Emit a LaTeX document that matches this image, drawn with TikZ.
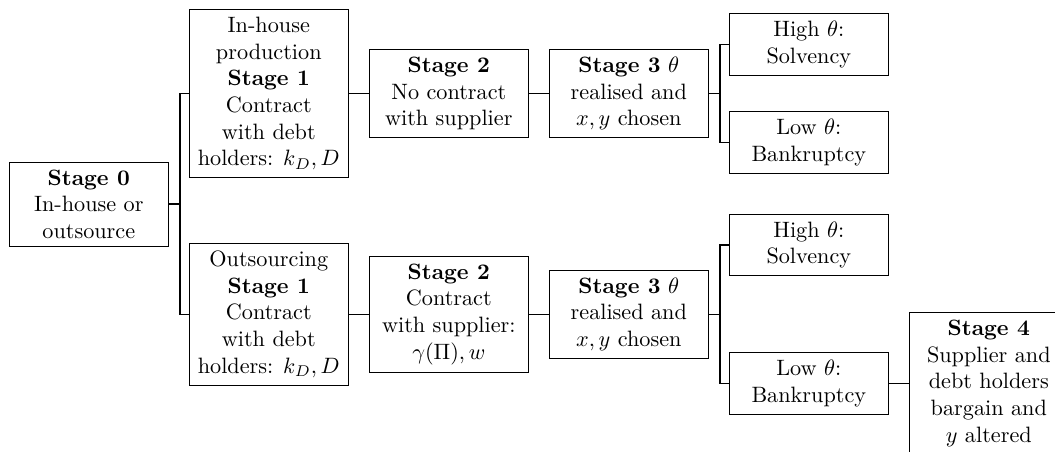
\documentclass[tikz,border=0pt]{standalone}
\begin{document}
\begin{tikzpicture}[x=0.45pt,y=-0.45pt,
  stagebox/.style={draw, line width=0.4pt, align=center, minimum width=71.55pt,
    inner xsep=3.33pt, inner ysep=3.33pt, anchor=center, fill=white},
  edge/.style={line width=0.7pt}]
\fill[white] (0,0) rectangle (1055,451);
\clip (0,0) rectangle (1055,451);

% Stage 0
\node[stagebox] (s0) at (88.8,204.2) {\textbf{Stage 0}\\In-house or\\outsource};

% In-house branch
\node[stagebox] (s1a) at (268.8,93.6) {In-house\\production\\\textbf{Stage 1}\\Contract\\with debt\\holders: $k_D, D$};
\node[stagebox] (s2a) at (448.8,93.6) {\textbf{Stage 2}\\No contract\\with supplier};
\node[stagebox] (s3a) at (628.8,93.6) {\textbf{Stage 3} $\theta$\\realised and\\$x, y$ chosen};
\node[stagebox] (hiA) at (808.8,44.5) {High $\theta$:\\Solvency};
\node[stagebox] (loA) at (808.8,142.4) {Low $\theta$:\\Bankruptcy};

% Outsourcing branch
\node[stagebox] (s1b) at (268.8,314.3) {Outsourcing\\\textbf{Stage 1}\\Contract\\with debt\\holders: $k_D, D$};
\node[stagebox] (s2b) at (448.8,314.3) {\textbf{Stage 2}\\Contract\\with supplier:\\$\gamma(\Pi), w$};
\node[stagebox] (s3b) at (628.8,314.3) {\textbf{Stage 3} $\theta$\\realised and\\$x, y$ chosen};
\node[stagebox] (hiB) at (808.8,245.2) {High $\theta$:\\Solvency};
\node[stagebox] (loB) at (808.8,383.4) {Low $\theta$:\\Bankruptcy};
\node[stagebox] (s4) at (988.8,383.4) {\textbf{Stage 4}\\Supplier and\\debt holders\\bargain and\\$y$ altered};

% Forked connectors
\draw[edge] (s0.east) -- ++(11,0) coordinate (f0);
\draw[edge] (f0) |- (s1a.west);
\draw[edge] (f0) |- (s1b.west);

\draw[edge] (s3a.east) -- ++(11,0) coordinate (f1);
\draw[edge] (f1) |- (hiA.west);
\draw[edge] (f1) |- (loA.west);

\draw[edge] (s3b.east) -- ++(11,0) coordinate (f2);
\draw[edge] (f2) |- (hiB.west);
\draw[edge] (f2) |- (loB.west);

% Straight connectors
\draw[edge] (s1a.east) -- (s2a.west);
\draw[edge] (s2a.east) -- (s3a.west);
\draw[edge] (s1b.east) -- (s2b.west);
\draw[edge] (s2b.east) -- (s3b.west);
\draw[edge] (loB.east) -- (s4.west);
\end{tikzpicture}
\end{document}
